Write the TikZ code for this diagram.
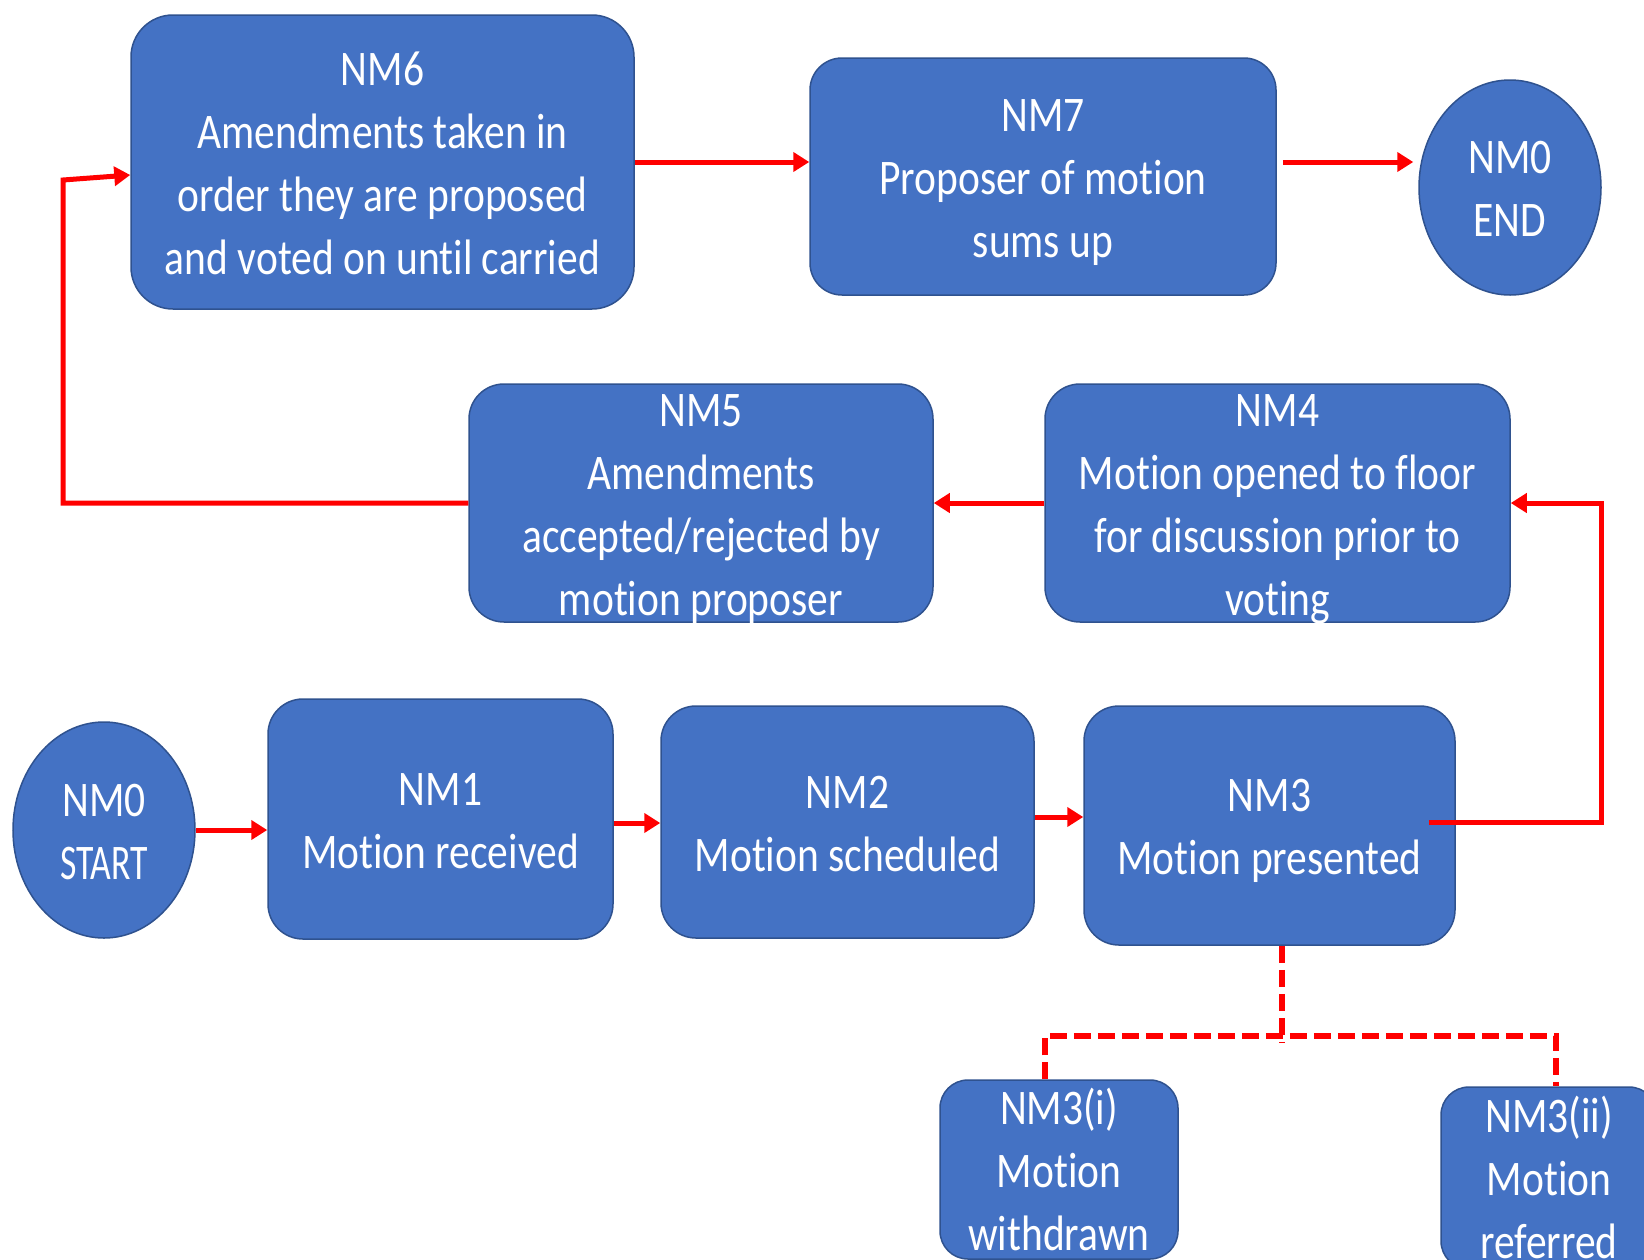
\documentclass[tikz,border=0pt]{standalone}
\usepackage{graphicx}
\usepackage{fontspec}
\setmainfont{Carlito}[Ligatures={NoCommon}]
\usetikzlibrary{arrows.meta,shapes.geometric}
\definecolor{boxblue}{HTML}{4472C4}
\definecolor{boxedge}{HTML}{2F528F}
\definecolor{arrred}{HTML}{FF0000}
\newcommand\nmtext[1]{\smash{\raisebox{-12.6pt}{\scalebox{1}[1.2]{\begin{tabular}{@{}c@{}}#1\end{tabular}}}}}
\tikzset{
  nmbox/.style={draw=boxedge, line width=1.5pt, fill=boxblue, text=white,
    rounded corners=35pt, inner sep=0pt, font=\fontsize{41.5}{52.5}\selectfont},
  nmoval/.style={nmbox, ellipse, rounded corners=0pt},
  arr/.style={draw=arrred, line width=5pt, -{Triangle[length=16pt,width=19pt]}},
  dsh/.style={draw=arrred, line width=5.5pt, dash pattern=on 17pt off 7pt}
}
\begin{document}
\begin{tikzpicture}[x=1pt,y=-1pt]
\fill[white] (0,0) rectangle (1644,1259);
\useasboundingbox (0,0) rectangle (1644,1259);
% top row
\node[nmbox, rounded corners=42pt, minimum width=503pt, minimum height=294pt] (NM6) at (382.5,162)
  {\nmtext{NM6\\Amendments taken in\\order they are proposed\\and voted on until carried}};
\node[nmbox, rounded corners=32pt, minimum width=466pt, minimum height=237pt] (NM7) at (1043,176.5)
  {\nmtext{NM7\\Proposer of motion\\sums up}};
\node[nmoval, minimum width=182pt, minimum height=215pt] (END) at (1510,187.5)
  {\nmtext{NM0\\END}};
% middle row
\node[nmbox, minimum width=464pt, minimum height=238pt] (NM5) at (701,503)
  {\nmtext{NM5\\Amendments\\accepted/rejected by\\motion proposer}};
\node[nmbox, minimum width=465pt, minimum height=238pt] (NM4) at (1277.5,503)
  {\nmtext{NM4\\Motion opened to floor\\for discussion prior to\\voting}};
% bottom row
\node[nmoval, minimum width=182pt, minimum height=216pt] (START) at (104,830)
  {\nmtext{NM0\\\scalebox{0.86}[1]{START}}};
\node[nmbox, minimum width=345pt, minimum height=240pt] (NM1) at (440.5,819)
  {\nmtext{NM1\\Motion received}};
\node[nmbox, minimum width=373pt, minimum height=232pt] (NM2) at (847.5,822)
  {\nmtext{NM2\\Motion scheduled}};
\node[nmbox, minimum width=371pt, minimum height=239pt] (NM3) at (1269.5,825.5)
  {\nmtext{NM3\\Motion presented}};
% sub-outcomes
\node[nmbox, rounded corners=28pt, minimum width=238pt, minimum height=179pt] (NM3i) at (1059,1169.5)
  {\nmtext{NM3(i)\\Motion\\withdrawn}};
\node[nmbox, rounded corners=28pt, minimum width=216pt, minimum height=182pt] (NM3ii) at (1549,1178)
  {\nmtext{NM3(ii)\\Motion\\referred}};
\coordinate (L) at (63,180);
\coordinate (J) at (1282,1036);
% connectors
\draw[arr] (START.east) -- (START.east -| NM1.west);
\draw[arr] ([yshift=-4pt]NM1.east) -- ([yshift=-4pt]NM1.east -| NM2.west);
\draw[arr] ([yshift=5pt]NM2.east) -- ([yshift=5pt]NM2.east -| NM3.west);
\draw[arr] ([xshift=-27pt,yshift=3.5pt]NM3.east) -| ([xshift=91pt]NM4.east) -- (NM4.east);
\draw[arr] (NM4.west) -- (NM5.east);
\draw[arr] (NM5.west) -| (L) -- ([yshift=-13pt]NM6.west);
\draw[arr] (NM6.east) -- (NM6.east -| NM7.west);
\draw[arr] ([xshift=6pt,yshift=14.5pt]NM7.east) -- ([xshift=-5pt,yshift=25.5pt]END.west);
\draw[dsh] ([xshift=12.5pt]NM3.south) -- ([yshift=-6pt]J);
\draw[dsh] ([xshift=-14pt]NM3i.north) |- (J) -| ([xshift=7pt]NM3ii.north);
\end{tikzpicture}
\end{document}
